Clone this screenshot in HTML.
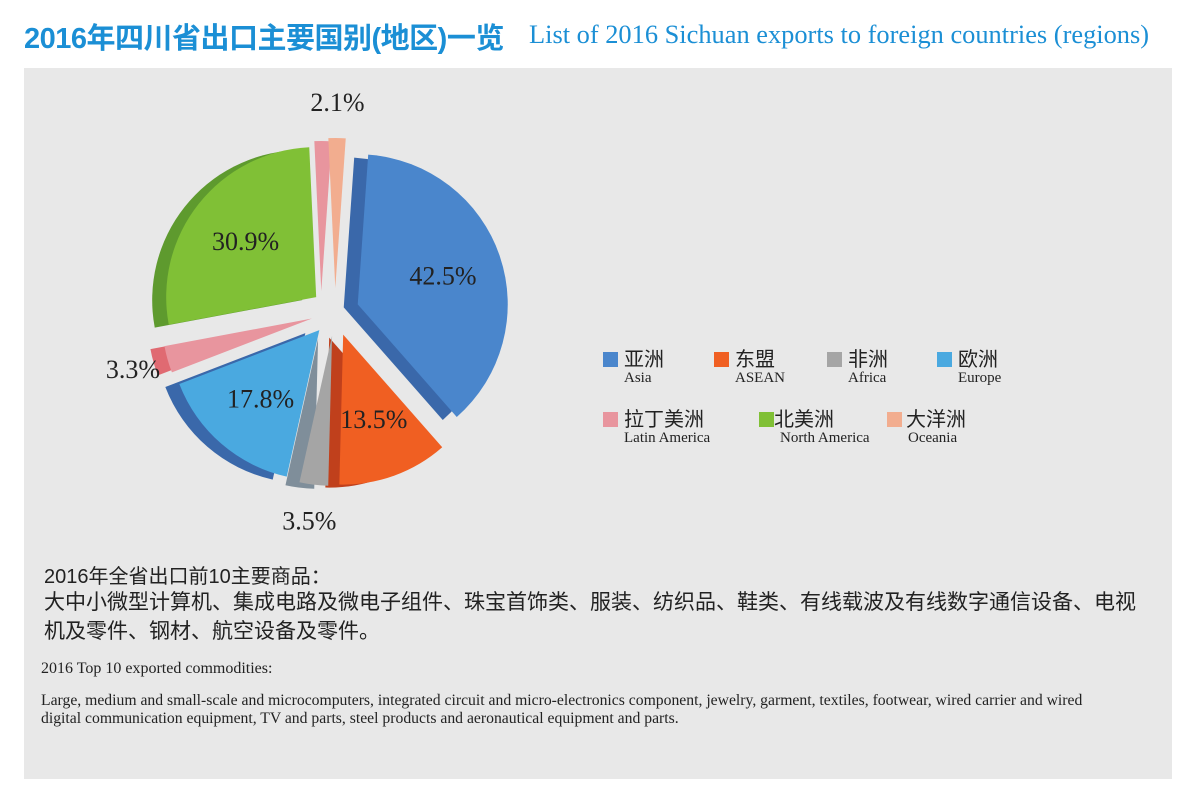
<!DOCTYPE html>
<html><head><meta charset="utf-8">
<style>
body{margin:0;width:1198px;height:801px;background:#fff;position:relative;overflow:hidden;font-family:"Liberation Serif","Noto Serif CJK SC",serif}
.t1{position:absolute;left:24px;top:15px;font:bold 29px "Liberation Sans","Noto Sans CJK SC",sans-serif;color:#1b8fd5;letter-spacing:-0.5px}
.t2{position:absolute;left:529px;top:19px;font:26.4px "Liberation Serif",serif;color:#1b8fd5;white-space:nowrap}
.panel{position:absolute;left:24px;top:68px;width:1148px;height:711px;background:#e8e8e8}
.cn{position:absolute;left:44px;font:20px "Liberation Sans","Noto Sans CJK SC",sans-serif;color:#222}
.en{position:absolute;left:41px;font:15.7px "Liberation Serif",serif;color:#222}
.lg{position:absolute;font:20px "Liberation Sans","Noto Sans CJK SC",sans-serif;color:#222}
.lg i{display:inline-block;width:15px;height:15px;margin-right:6px;vertical-align:-1px}
.lg span{display:block;font:15px "Liberation Serif",serif;margin-left:21px;margin-top:-2px}
</style></head><body>
<div class="t1">2016年四川省出口主要国别(地区)一览</div>
<div class="t2">List of 2016 Sichuan exports to foreign countries (regions)</div>
<div class="panel"></div>
<svg id="pie" width="1198" height="801" style="position:absolute;left:0;top:0"></svg>
<div class="lg" style="left:603px;top:343px"><i style="background:#4a86cc"></i>亚洲<span>Asia</span></div>
<div class="lg" style="left:714px;top:343px"><i style="background:#f05f22"></i>东盟<span>ASEAN</span></div>
<div class="lg" style="left:827px;top:343px"><i style="background:#a5a5a5"></i>非洲<span>Africa</span></div>
<div class="lg" style="left:937px;top:343px"><i style="background:#4aa9e0"></i>欧洲<span>Europe</span></div>
<div class="lg" style="left:603px;top:403px"><i style="background:#e8959e"></i>拉丁美洲<span>Latin America</span></div>
<div class="lg" style="left:759px;top:403px"><i style="background:#80c036;margin-right:0"></i>北美洲<span>North America</span></div>
<div class="lg" style="left:887px;top:403px"><i style="background:#f2ad8f;margin-right:4px"></i>大洋洲<span>Oceania</span></div>
<div class="cn" style="top:560px">2016年全省出口前10主要商品：</div>
<div class="cn" style="top:588px;width:1110px;line-height:29px;font-size:21px">大中小微型计算机、集成电路及微电子组件、珠宝首饰类、服装、纺织品、鞋类、有线载波及有线数字通信设备、电视机及零件、钢材、航空设备及零件。</div>
<div class="en" style="top:660px;font-size:16px">2016 Top 10 exported commodities:</div>
<div class="en" style="top:692px;width:1070px;line-height:18px">Large, medium and small-scale and microcomputers, integrated circuit and micro-electronics component, jewelry, garment, textiles, footwear, wired carrier and wired digital communication equipment, TV and parts, steel products and aeronautical equipment and parts.</div>
<script>
const categories=["Asia","ASEAN","Africa","Europe","Latin America","North America","Oceania"];
const values=[42.5,13.5,3.5,17.8,3.3,30.9,2.1];
const labels=["42.5%","13.5%","3.5%","17.8%","3.3%","30.9%","2.1%"];
const colors=["#4a86cc","#f05f22","#a5a5a5","#4aa9e0","#e8959e","#80c036","#f2ad8f"];
const sides=["#3a68aa","#c0401c","#7f8e9a","#3a68aa","#e06a72","#5e9a2e","#e8959e"];
const svg=document.getElementById('pie');
const NS="http://www.w3.org/2000/svg";
const cx=335,cy=312,r=150,explode=24,depth=14,start=4;
const total=values.reduce((a,b)=>a+b,0);
function pt(a,rad,ox,oy){const t=(a-90)*Math.PI/180;return [ox+rad*Math.cos(t),oy+rad*Math.sin(t)];}
function wedge(a0,a1,ox,oy){const p0=pt(a0,r,ox,oy),p1=pt(a1,r,ox,oy);const large=(a1-a0)>180?1:0;
return `M${ox},${oy}L${p0[0]},${p0[1]}A${r},${r} 0 ${large} 1 ${p1[0]},${p1[1]}Z`;}
let ang=start;
values.forEach((v,i)=>{
  const sweep=v/total*360,a0=ang,a1=ang+sweep,mid=(a0+a1)/2;ang=a1;
  const o=pt(mid,explode,cx,cy);
  const g=document.createElementNS(NS,'g');
  
  
  const s=document.createElementNS(NS,'path');
  s.setAttribute('d',wedge(a0,a1,o[0]-depth,o[1]+3));s.setAttribute('fill',sides[i]);
  g.appendChild(s);
  const p=document.createElementNS(NS,'path');
  p.setAttribute('d',wedge(a0,a1,o[0],o[1]));p.setAttribute('fill',colors[i]);
  g.appendChild(p);
  svg.appendChild(g);
  const small=v<5;
  const lp=pt(mid,small?r+36:r*0.6,o[0],o[1]);
  const t=document.createElementNS(NS,'text');
  
  
  t.setAttribute('x',lp[0]);t.setAttribute('y',lp[1]+9);
  t.setAttribute('text-anchor','middle');
  t.setAttribute('font-family','Liberation Serif, serif');
  t.setAttribute('font-size','26');t.setAttribute('fill','#222');
  t.textContent=labels[i];
  svg.appendChild(t);
});
</script>
</body></html>
